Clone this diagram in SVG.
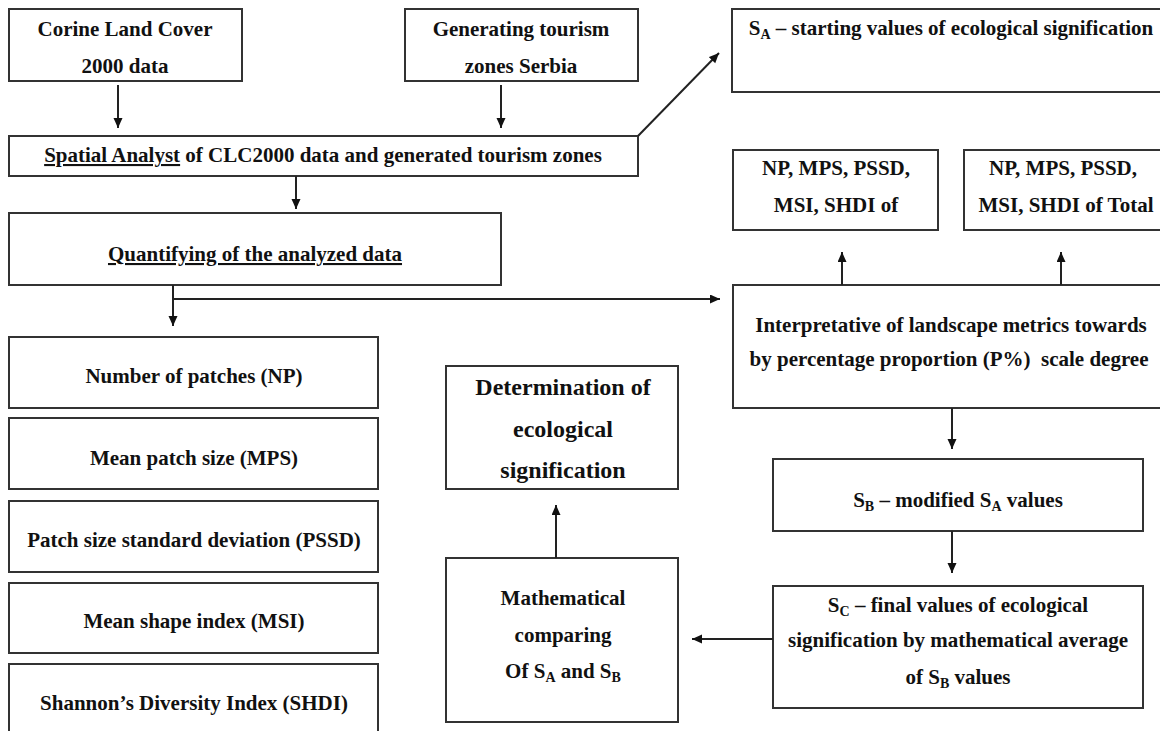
<svg xmlns="http://www.w3.org/2000/svg" width="1160" height="731" viewBox="0 0 1160 731">
<style>
.box{fill:#fff;stroke:#333;stroke-width:2}
.t{font-family:"Liberation Serif","Times New Roman",serif;font-weight:bold;font-size:21px;fill:#111;text-anchor:middle}
.big{font-size:24px}
.sub{font-size:14px}
.c{stroke:#222;stroke-width:2;fill:none}
</style>
<defs>
<marker id="ah" markerUnits="userSpaceOnUse" markerWidth="12" markerHeight="10" refX="10" refY="4.5" orient="auto">
<path d="M0,0 L10,4.5 L0,9 Z" fill="#111"/>
</marker>
</defs>
<rect width="1160" height="731" fill="#fff"/>

<g id="corine"><rect class="box" x="9" y="9" width="233" height="72"/>
<text class="t" x="125" y="36">Corine Land Cover</text><text class="t" x="125" y="73">2000 data</text></g>

<g id="generating"><rect class="box" x="405" y="9" width="233" height="72"/>
<text class="t" x="521" y="36">Generating tourism</text><text class="t" x="521" y="73">zones Serbia</text></g>

<g id="sa"><rect class="box" x="732" y="9" width="432" height="83"/>
<text class="t" x="951" y="35">S<tspan class="sub" dy="4">A</tspan><tspan dy="-4"> – starting values of ecological signification</tspan></text></g>

<g id="spatial"><rect class="box" x="9" y="136" width="629" height="40"/>
<text class="t" x="323" y="162"><tspan text-decoration="underline">Spatial Analyst</tspan> of CLC2000 data and generated tourism zones</text></g>

<g id="np1"><rect class="box" x="733" y="150" width="205" height="80"/>
<text class="t" x="836" y="175">NP, MPS, PSSD,</text><text class="t" x="836" y="212">MSI, SHDI of</text></g>

<g id="np2"><rect class="box" x="964" y="150" width="200" height="80"/>
<text class="t" x="1063" y="175">NP, MPS, PSSD,</text><text class="t" x="1066" y="212">MSI, SHDI of Total</text></g>

<g id="quant"><rect class="box" x="9" y="213" width="492" height="72"/>
<text class="t" x="255" y="261" text-decoration="underline">Quantifying of the analyzed data</text></g>

<g id="interp"><rect class="box" x="733" y="285" width="431" height="123"/>
<text class="t" x="951" y="332">Interpretative of landscape metrics towards</text>
<text class="t" x="949" y="366" xml:space="preserve">by percentage proportion (P%)  scale degree</text></g>

<g id="np"><rect class="box" x="9" y="337" width="369" height="71"/><text class="t" x="194" y="383">Number of patches (NP)</text></g>
<g id="mps"><rect class="box" x="9" y="418" width="369" height="71"/><text class="t" x="194" y="465">Mean patch size (MPS)</text></g>
<g id="pssd"><rect class="box" x="9" y="501" width="369" height="71"/><text class="t" x="194" y="547">Patch size standard deviation (PSSD)</text></g>
<g id="msi"><rect class="box" x="9" y="583" width="369" height="70"/><text class="t" x="194" y="628">Mean shape index (MSI)</text></g>
<g id="shdi"><rect class="box" x="9" y="664" width="369" height="80"/><text class="t" x="194" y="710">Shannon’s Diversity Index (SHDI)</text></g>

<g id="determ"><rect class="box" x="446" y="366" width="232" height="123"/>
<text class="t big" x="563" y="395">Determination of</text><text class="t big" x="563" y="437">ecological</text><text class="t big" x="563" y="478">signification</text></g>

<g id="math"><rect class="box" x="446" y="558" width="232" height="164"/>
<text class="t" x="563" y="605">Mathematical</text><text class="t" x="563" y="642">comparing</text>
<text class="t" x="563" y="678">Of S<tspan class="sub" dy="4">A</tspan><tspan dy="-4"> and S</tspan><tspan class="sub" dy="4">B</tspan></text></g>

<g id="sb"><rect class="box" x="773" y="459" width="370" height="72"/>
<text class="t" x="958" y="507">S<tspan class="sub" dy="4">B</tspan><tspan dy="-4"> – modified S</tspan><tspan class="sub" dy="4">A</tspan><tspan dy="-4"> values</tspan></text></g>

<g id="sc"><rect class="box" x="773" y="586" width="370" height="122"/>
<text class="t" x="958" y="612">S<tspan class="sub" dy="4">C</tspan><tspan dy="-4"> – final values of ecological</tspan></text>
<text class="t" x="958" y="647">signification by mathematical average</text>
<text class="t" x="958" y="684">of S<tspan class="sub" dy="4">B</tspan><tspan dy="-4"> values</tspan></text></g>

<g id="connectors">
<line class="c" x1="118" y1="85" x2="118" y2="128" marker-end="url(#ah)"/>
<line class="c" x1="501" y1="85" x2="501" y2="128" marker-end="url(#ah)"/>
<line class="c" x1="638" y1="136" x2="719" y2="53" marker-end="url(#ah)"/>
<line class="c" x1="296" y1="176" x2="296" y2="209" marker-end="url(#ah)"/>
<line class="c" x1="173" y1="285" x2="173" y2="326" marker-end="url(#ah)"/>
<polyline class="c" points="173,299 720,299" marker-end="url(#ah)"/>
<line class="c" x1="842" y1="285" x2="842" y2="252" marker-end="url(#ah)"/>
<line class="c" x1="1061" y1="285" x2="1061" y2="252" marker-end="url(#ah)"/>
<line class="c" x1="952" y1="408" x2="952" y2="449" marker-end="url(#ah)"/>
<line class="c" x1="952" y1="531" x2="952" y2="573" marker-end="url(#ah)"/>
<line class="c" x1="773" y1="639" x2="692" y2="639" marker-end="url(#ah)"/>
<line class="c" x1="556" y1="558" x2="556" y2="505" marker-end="url(#ah)"/>
</g>
</svg>
